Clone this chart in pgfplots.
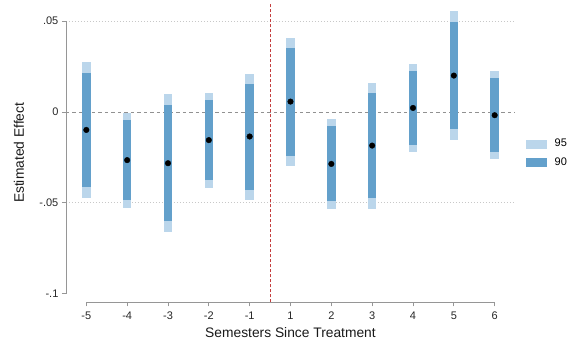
\documentclass[border=0pt]{standalone}
\usepackage{pgfplots}
\usepackage{pgfplotstable}
\usepackage{fontspec}
\setmainfont{Liberation Sans}
\pgfplotsset{compat=1.18}

\definecolor{ci95}{RGB}{187,214,235}
\definecolor{ci90}{RGB}{99,160,203}
\definecolor{axgray}{RGB}{150,150,150}
\definecolor{gridgray}{RGB}{200,200,200}
\definecolor{zerogray}{RGB}{145,145,145}
\definecolor{treat}{RGB}{196,62,62}

% x: position of the semester, b: point estimate, then 95% and 90% bounds
\pgfplotstableread{
x b       lo95    hi95    lo90    hi90
0 -0.0099 -0.0476  0.0277 -0.0414  0.0216
1 -0.0265 -0.0527 -0.0005 -0.0485 -0.0046
2 -0.0282 -0.0659  0.0097 -0.0601  0.0037
3 -0.0155 -0.0416  0.0104 -0.0375  0.0064
4 -0.0135 -0.0482  0.0207 -0.0427  0.0152
5  0.0057 -0.0297  0.0409 -0.0240  0.0352
6 -0.0286 -0.0533 -0.0040 -0.0492 -0.0080
7 -0.0185 -0.0533  0.0161 -0.0476  0.0104
8  0.0022 -0.0221  0.0262 -0.0183  0.0224
9  0.0200 -0.0152  0.0553 -0.0095  0.0495
10 -0.0018 -0.0258 0.0224 -0.0220  0.0184
}\estimates

\begin{document}
\begin{tikzpicture}
\begin{axis}[
  at={(65.9pt,43.7pt)}, anchor=south west,
  scale only axis, width=449.2pt, height=298.9pt,
  xmin=-0.5, xmax=10.5, ymin=-0.1047, ymax=0.0597,
  axis x line*=bottom, axis y line*=left,
  axis line style={draw=none},
  xtick={0,1,2,3,4,5,6,7,8,9,10},
  xticklabels={-5,-4,-3,-2,-1,1,2,3,4,5,6},
  ytick={-0.1,-0.05,0,0.05},
  yticklabels={-.1,-.05,0,.05},
  tick align=outside,
  major tick length=4pt,
  tick style={axgray, line width=0.8pt},
  ticklabel style={font=\fontsize{11}{13}\selectfont, text=black!85},
  xticklabel style={yshift=-2pt},
  xlabel={Semesters Since Treatment},
  ylabel={Estimated Effect},
  every axis x label/.style={at={(axis description cs:0.5,-0.102)}, anchor=center,
    font=\fontsize{13.8}{16}\selectfont, text=black!90},
  every axis y label/.style={at={(axis description cs:-0.1044,0.5)}, anchor=center, rotate=90,
    font=\fontsize{13.8}{16}\selectfont, text=black!90},
  legend style={at={(axis description cs:1,0.5)}, anchor=west, xshift=11pt,
    draw=none, fill=none, inner sep=0pt, row sep=9pt,
    font=\fontsize{11}{13}\selectfont,
    nodes={inner sep=0pt, anchor=west}},
  legend cell align=left,
  clip=false,
]
% reference lines
\draw[gridgray, line width=0.8pt, dash pattern=on 1pt off 2pt]
  (axis cs:-0.5,0.05) -- (axis cs:10.5,0.05);
\draw[gridgray, line width=0.8pt, dash pattern=on 1pt off 2pt]
  (axis cs:-0.5,-0.05) -- (axis cs:10.5,-0.05);
\draw[zerogray, line width=0.8pt, dash pattern=on 3.5pt off 3pt]
  (axis cs:-0.5,0) -- (axis cs:10.5,0);

% 95% intervals
\addplot[draw=none, mark=none, forget plot,
  error bars/.cd, y dir=both, y explicit,
  error mark=none, error bar style={ci95, line width=8.5pt}]
  table[x=x, y=b,
        y error plus expr=\thisrow{hi95}-\thisrow{b},
        y error minus expr=\thisrow{b}-\thisrow{lo95}] {\estimates};
% 90% intervals
\addplot[draw=none, mark=none, forget plot,
  error bars/.cd, y dir=both, y explicit,
  error mark=none, error bar style={ci90, line width=8.5pt}]
  table[x=x, y=b,
        y error plus expr=\thisrow{hi90}-\thisrow{b},
        y error minus expr=\thisrow{b}-\thisrow{lo90}] {\estimates};
% point estimates
\addplot[only marks, mark=*, mark size=2.8pt, black, forget plot]
  table[x=x, y=b] {\estimates};

% treatment onset
\draw[treat, line width=0.8pt, dash pattern=on 3pt off 2pt]
  (axis cs:4.5,-0.1047) -- (axis cs:4.5,0.0597);

% axis lines spanning the tick range
\draw[axgray, line width=0.8pt] (axis cs:0,-0.1047) -- (axis cs:10,-0.1047);
\draw[axgray, line width=0.8pt] (axis cs:-0.5,-0.1) -- (axis cs:-0.5,0.05);

\addlegendimage{legend image code/.code={
  \fill[ci95] (0pt,-4pt) rectangle (20pt,4pt); \path (28pt,0pt);}}
\addlegendentry{95}
\addlegendimage{legend image code/.code={
  \fill[ci90] (0pt,-4pt) rectangle (20pt,4pt); \path (28pt,0pt);}}
\addlegendentry{90}
\end{axis}
\pgfresetboundingbox
\path (0pt,0pt) rectangle (581pt,346pt);
\end{tikzpicture}
\end{document}
